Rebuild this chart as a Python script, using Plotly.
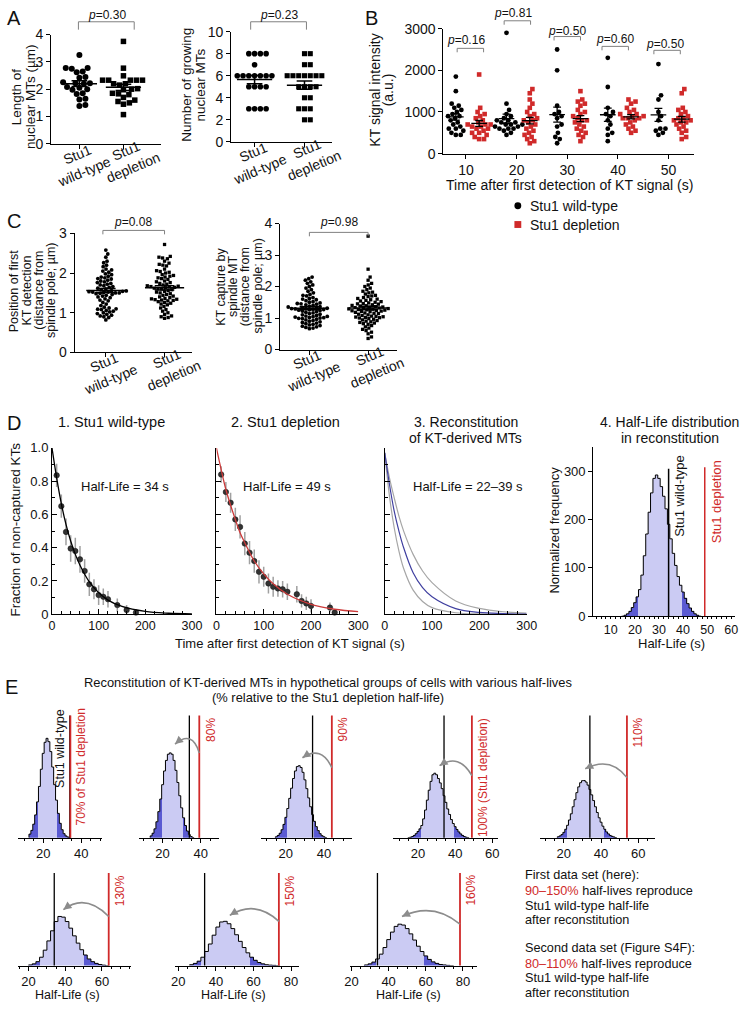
import numpy as np
import plotly.graph_objects as go

# ======================= DATA =======================
A_categories = ["Stu1<br>wild-type", "Stu1<br>depletion"]
A_length_wt = [3.25, 2.78, 2.78, 2.75, 2.62, 2.65, 2.45, 2.42, 2.25, 2.22, 2.22, 2.20,
               2.08, 2.05, 2.00, 1.98, 1.82, 1.85, 1.62, 1.65, 1.42, 1.38]
A_length_dep = [3.75, 2.77, 2.49, 2.33, 2.33, 2.33, 2.33, 2.33, 2.20, 2.20, 2.15, 2.02,
                2.00, 1.98, 1.85, 1.83, 1.80, 1.70, 1.60, 1.55, 1.50, 1.45, 1.07]
A_growing_wt = [8, 8, 8, 8, 7, 6, 6, 6, 6, 6, 6, 6, 5, 5, 5, 5, 3, 3, 3, 3]
A_growing_dep = [8, 8, 7, 7, 6, 6, 6, 6, 6, 6, 6, 5, 5, 5, 5, 4, 4, 3, 3, 3, 2, 2]
A_pvalues = ["0.30", "0.23"]

B_times = [10, 20, 30, 40, 50]
B_pvalues = ["0.16", "0.81", "0.50", "0.60", "0.50"]
B_wt_10 = [1850, 1500, 1200, 1150, 1100, 1050, 1000, 950, 900, 900, 850, 800, 750, 650, 600, 600, 550, 500, 450, 450, 700]
B_dep_10 = [1900, 1100, 1000, 950, 900, 850, 800, 750, 700, 700, 650, 600, 600, 550, 500, 500, 450, 400, 350, 350, 700, 650]
B_wt_20 = [2900, 1200, 1050, 950, 900, 850, 800, 800, 750, 750, 700, 700, 650, 650, 600, 600, 550, 500, 450, 700, 600]
B_dep_20 = [1550, 1450, 1300, 1200, 1100, 1000, 950, 900, 850, 800, 750, 700, 650, 600, 550, 500, 450, 400, 350, 300, 250, 800]
B_wt_30 = [2500, 2000, 1150, 1000, 950, 900, 850, 700, 650, 500, 400, 350, 250]
B_dep_30 = [1500, 1300, 1250, 1200, 1150, 1050, 1000, 950, 900, 850, 800, 750, 700, 650, 600, 550, 500, 450, 400, 300, 800]
B_wt_40 = [2300, 1600, 1100, 1000, 950, 900, 800, 700, 600, 500, 300, 450]
B_dep_40 = [1300, 1250, 1200, 1100, 1050, 1000, 950, 900, 900, 850, 850, 800, 750, 700, 650, 600, 550, 500, 850, 950]
B_wt_50 = [2150, 1400, 1300, 1000, 900, 800, 600, 550, 500, 450, 600]
B_dep_50 = [1550, 1450, 1100, 1050, 1000, 950, 900, 850, 800, 800, 750, 700, 650, 600, 550, 500, 400, 350, 850, 750]

C_pvalues = ["0.08", "0.98"]
C_position_wt = [2.58, 2.48, 2.40, 2.30, 2.26, 2.20, 2.16, 2.10, 2.08, 2.05, 2.02, 1.98, 1.96, 1.92,
                 1.90, 1.88, 1.86, 1.85, 1.82, 1.80, 1.78, 1.76, 1.74, 1.72, 1.70, 1.68, 1.66, 1.64,
                 1.62, 1.60, 1.58, 1.56, 1.55, 1.54, 1.53, 1.52, 1.52, 1.51, 1.50, 1.50, 1.49, 1.48,
                 1.46, 1.44, 1.42, 1.40, 1.38, 1.35, 1.32, 1.30, 1.26, 1.22, 1.18, 1.14, 1.12, 1.10,
                 1.09, 1.08, 1.06, 1.04, 1.02, 1.00, 0.98, 0.96, 0.94, 0.92, 0.90, 0.88, 0.82]
C_position_dep = [2.72, 2.42, 2.40, 2.38, 2.36, 2.30, 2.25, 2.22, 2.20, 2.18, 2.10, 2.06, 2.04, 2.02,
                  2.00, 1.96, 1.94, 1.92, 1.90, 1.88, 1.86, 1.84, 1.80, 1.78, 1.76, 1.74, 1.72, 1.70,
                  1.68, 1.67, 1.66, 1.65, 1.64, 1.63, 1.62, 1.61, 1.60, 1.58, 1.56, 1.54, 1.52, 1.50,
                  1.48, 1.46, 1.44, 1.42, 1.40, 1.38, 1.36, 1.35, 1.34, 1.33, 1.32, 1.31, 1.30, 1.28,
                  1.26, 1.24, 1.22, 1.20, 1.16, 1.12, 1.08, 1.04, 1.00, 0.96, 0.92, 0.90, 0.88, 0.86]
C_capture_wt = [2.30, 2.25, 2.20, 2.15, 2.10, 2.05, 2.00, 1.95, 1.90, 1.85, 1.80, 1.75, 1.72, 1.70,
                1.65, 1.62, 1.60, 1.58, 1.55, 1.52, 1.50, 1.48, 1.46, 1.45, 1.44, 1.42, 1.40, 1.38,
                1.36, 1.35, 1.34, 1.32, 1.31, 1.30, 1.30, 1.29, 1.28, 1.27, 1.26, 1.25, 1.24, 1.22,
                1.20, 1.18, 1.16, 1.14, 1.12, 1.10, 1.08, 1.06, 1.05, 1.04, 1.03, 1.02, 1.01, 1.00,
                0.99, 0.98, 0.96, 0.94, 0.92, 0.90, 0.88, 0.86, 0.84, 0.82, 0.80, 0.78, 0.76, 0.74,
                0.72, 0.70, 0.68, 0.66]
C_capture_dep = [3.60, 2.55, 2.30, 2.20, 2.10, 2.05, 2.00, 1.95, 1.90, 1.85, 1.82, 1.80, 1.76, 1.72,
                 1.70, 1.68, 1.65, 1.62, 1.60, 1.58, 1.56, 1.54, 1.52, 1.50, 1.48, 1.46, 1.45, 1.44,
                 1.42, 1.40, 1.39, 1.38, 1.36, 1.35, 1.34, 1.33, 1.32, 1.31, 1.30, 1.29, 1.28, 1.27,
                 1.26, 1.25, 1.24, 1.23, 1.22, 1.21, 1.20, 1.18, 1.16, 1.15, 1.14, 1.12, 1.10, 1.08,
                 1.06, 1.05, 1.04, 1.03, 1.02, 1.01, 1.00, 0.98, 0.96, 0.94, 0.92, 0.90, 0.88, 0.86,
                 0.84, 0.82, 0.80, 0.76, 0.72, 0.68, 0.64, 0.60, 0.55, 0.50, 0.40, 0.35]

HALF_LIFE_WT = 34
HALF_LIFE_DEP = 49

D1_t = [10, 20, 30, 40, 50, 60, 70, 80, 90, 100, 110, 120, 140, 160, 180]
D1_f = [0.835, 0.65, 0.495, 0.395, 0.38, 0.33, 0.26, 0.18, 0.15, 0.115, 0.105, 0.09, 0.055, 0.025, 0.01]
D1_err = [0.07, 0.07, 0.08, 0.08, 0.08, 0.08, 0.07, 0.07, 0.06, 0.06, 0.05, 0.05, 0.04, 0.03, 0.02]
D1_fit_t = [0, 10, 20, 30, 40, 50, 60, 80, 100, 120, 150, 200, 250, 300]
D1_fit_f = [1.0, 0.82, 0.665, 0.54, 0.44, 0.36, 0.295, 0.195, 0.13, 0.085, 0.047, 0.017, 0.006, 0.002]

D2_t = [10, 20, 30, 40, 50, 60, 70, 80, 90, 100, 110, 120, 130, 140, 150, 170, 180, 190, 200, 240, 250]
D2_f = [0.84, 0.735, 0.67, 0.57, 0.525, 0.425, 0.37, 0.32, 0.255, 0.225, 0.185, 0.165, 0.155, 0.15,
        0.135, 0.12, 0.08, 0.065, 0.05, 0.04, 0.01]
D2_err = [0.05, 0.06, 0.06, 0.07, 0.07, 0.07, 0.07, 0.07, 0.07, 0.06, 0.06, 0.06, 0.05, 0.05, 0.05,
          0.05, 0.04, 0.04, 0.04, 0.03, 0.02]
D2_fit_t = [0, 10, 20, 30, 40, 50, 60, 80, 100, 120, 150, 200, 250, 300]
D2_fit_f = [1.0, 0.87, 0.75, 0.655, 0.57, 0.49, 0.43, 0.32, 0.243, 0.183, 0.12, 0.06, 0.03, 0.016]

D3_t = [0, 10, 20, 30, 40, 60, 80, 100, 150, 200, 250, 300]
D3_upper = [0.97, 0.82, 0.70, 0.59, 0.50, 0.36, 0.26, 0.19, 0.08, 0.035, 0.015, 0.007]
D3_middle = [0.97, 0.78, 0.62, 0.50, 0.40, 0.25, 0.16, 0.105, 0.034, 0.011, 0.004, 0.001]
D3_lower = [0.97, 0.71, 0.52, 0.38, 0.275, 0.145, 0.077, 0.04, 0.009, 0.002, 0.0005, 0.0]

D4_bins = list(range(15, 48))
D4_freq = [0, 2, 5, 10, 18, 28, 40, 55, 85, 125, 170, 215, 255, 285, 292, 285, 268, 248, 222, 190,
           160, 130, 105, 82, 64, 50, 37, 26, 17, 10, 5, 2, 0]

E_percents = [70, 80, 90, 100, 110, 130, 150, 160]
E1_bins = list(range(13, 35))
E1_freq = [16, 33, 61, 103, 162, 232, 310, 382, 432, 450, 435, 390, 320, 240, 170, 110, 65, 36, 18, 8, 3, 0]
E2_bins = list(range(14, 37))
E2_freq = [8, 20, 40, 72, 118, 175, 240, 302, 350, 378, 384, 378, 350, 305, 250, 190, 135, 90, 55, 30, 14, 5, 0]
E3_bins = list(range(15, 42))
E3_freq = [4, 10, 20, 36, 60, 92, 132, 178, 224, 268, 302, 322, 326, 318, 296, 262, 222, 180, 140, 104,
           74, 50, 32, 18, 9, 4, 0]
E4_bins = D4_bins
E4_freq = D4_freq
E5_bins = list(range(17, 49))
E5_freq = [4, 8, 14, 24, 38, 56, 80, 108, 140, 172, 204, 230, 249, 258, 259, 252, 238, 218, 194, 168,
           140, 114, 90, 70, 52, 38, 26, 17, 10, 6, 3, 0]
E6_bins = list(range(21, 64, 2))
E6_freq = [3, 8, 18, 38, 70, 112, 158, 200, 223, 220, 200, 170, 135, 102, 72, 48, 30, 18, 10, 5, 2, 0]
E7_bins = list(range(27, 74, 2))
E7_freq = [4, 10, 20, 38, 64, 98, 138, 175, 198, 201, 190, 168, 140, 110, 82, 58, 38, 24, 14, 8, 4, 2, 1, 0]
E8_bins = list(range(28, 75, 2))
E8_freq = [3, 8, 16, 30, 52, 82, 118, 152, 178, 188, 184, 168, 144, 116, 88, 64, 44, 28, 17, 10, 5, 3, 1, 0]
E_tail_lo = [17, 19, 20, 21, 21, 25, 31, 32]
E_tail_hi = [28, 31, 35, 40, 42, 51, 59, 60]
D4_tail_lo, D4_tail_hi = 21, 40

# ======================= STYLE / GEOMETRY =======================
W, H = 750, 1010
FONT = "Liberation Sans, Arial, Helvetica, sans-serif"
RED = "#d02a2a"
LIGHT = "#cbcbf3"
DARK = "#5a5ad2"
GRAY = "#8c8c8c"


def fx(p):
    return p / W


def fy(p):
    return 1 - p / H


fig = go.Figure()
AX = {}
ANN = []
SHAPES = []


def names(n):
    return ('x' if n == 1 else f'x{n}'), ('y' if n == 1 else f'y{n}')


def set_axes(n, xpx, ypx, xa, ya):
    xr, yr = names(n)
    base = dict(showline=True, linecolor='black', linewidth=1, showgrid=False, zeroline=False,
                tickcolor='black', ticklen=4, tickwidth=1, fixedrange=True,
                tickfont=dict(size=14, family=FONT, color='#111'))
    xd = dict(base, domain=[fx(xpx[0]), fx(xpx[1])], anchor=yr)
    xd.update(xa)
    yd = dict(base, domain=[fy(ypx[1]), fy(ypx[0])], anchor=xr)
    yd.update(ya)
    AX['xaxis' if n == 1 else f'xaxis{n}'] = xd
    AX['yaxis' if n == 1 else f'yaxis{n}'] = yd


def txt(x, y, text, size=14, color='#111', angle=0, xa='center', ya='middle',
        xref='paper', yref='paper', xshift=0, yshift=0):
    ANN.append(dict(x=fx(x) if xref == 'paper' else x, y=fy(y) if yref == 'paper' else y,
                    xref=xref, yref=yref, text=text, showarrow=False, textangle=angle,
                    font=dict(size=size, color=color, family=FONT),
                    xanchor=xa, yanchor=ya, xshift=xshift, yshift=yshift))


def bracket(x0, x1, ytop, ybot):
    SHAPES.append(dict(type='path', xref='paper', yref='paper',
                       path=f"M {fx(x0)},{fy(ybot)} L {fx(x0)},{fy(ytop)} L {fx(x1)},{fy(ytop)} L {fx(x1)},{fy(ybot)}",
                       line=dict(color='#808080', width=1)))


def swarm(vals, yppu, d):
    v = np.asarray(vals, float)
    ys = v * yppu
    order = np.argsort(v, kind='stable')
    px_, py_ = [], []
    out = np.zeros(len(v))
    for i in order:
        y = ys[i]
        cands = [0.0]
        for a, b in zip(px_, py_):
            dy = abs(b - y)
            if dy < d:
                dx = np.sqrt(d * d - dy * dy)
                cands += [a + dx, a - dx]
        cands.sort(key=lambda c: (round(abs(c), 6), -c))
        for c in cands:
            if all((c - a) ** 2 + (y - b) ** 2 >= d * d - 1e-6 for a, b in zip(px_, py_)):
                out[i] = c
                break
        px_.append(out[i])
        py_.append(y)
    return out


def mean_sem(xc, vals, mh, ch, n, width=1.5):
    xr, yr = names(n)
    v = np.asarray(vals, float)
    m = v.mean()
    s = v.std(ddof=1) / np.sqrt(len(v))
    xs = [xc - mh, xc + mh, None, xc, xc, None, xc - ch, xc + ch, None, xc - ch, xc + ch]
    ys = [m, m, None, m - s, m + s, None, m + s, m + s, None, m - s, m - s]
    fig.add_trace(go.Scatter(x=xs, y=ys, mode='lines', line=dict(color='black', width=width),
                             xaxis=xr, yaxis=yr, hoverinfo='skip', showlegend=False))


def cat_panel(n, xpx, ypx, cat_px, yrange, yticks, groups, d, msize, mh, ch, colors=('black', 'black')):
    xr, yr = names(n)
    unit = cat_px[1] - cat_px[0]
    r0 = (xpx[0] - cat_px[0]) / unit
    r1 = (xpx[1] - cat_px[0]) / unit
    yppu = (ypx[1] - ypx[0]) / (yrange[1] - yrange[0])
    set_axes(n, xpx, ypx,
             dict(range=[r0, r1], tickvals=[0, 1], showticklabels=False, ticks='outside'),
             dict(range=yrange, tickvals=yticks, ticks='outside'))
    for i, (vals, sym) in enumerate(groups):
        off = swarm(vals, yppu, d)
        fig.add_trace(go.Scatter(x=i + off / unit, y=vals, mode='markers',
                                 marker=dict(symbol=sym, size=msize if sym == 'circle' else msize - 0.5,
                                             color=colors[i], line=dict(width=0)),
                                 xaxis=xr, yaxis=yr, hoverinfo='skip', showlegend=False, cliponaxis=False))
    for i, (vals, sym) in enumerate(groups):
        mean_sem(i, vals, mh / unit, ch / unit, n)
    for i, lab in enumerate(A_categories):
        cx = cat_px[i] + (1 if i == 0 else 6)
        cy = ypx[1] + (19 if i == 0 else 15)
        txt(cx, cy, lab, size=14, angle=-23)


# ----- Panel A -----
cat_panel(1, (46, 158), (27, 138), (75, 120), [0, 4], [0, 1, 2, 3, 4],
          [(A_length_wt, 'circle'), (A_length_dep, 'square')], 6.2, 6, 18, 8)
cat_panel(2, (230, 333), (24, 136), (254, 305), [0, 10], [0, 2, 4, 6, 8, 10],
          [(A_growing_wt, 'circle'), (A_growing_dep, 'square')], 5.9, 5.6, 18, 8)
txt(8, 10, "A", size=20)
txt(11, 90, "Length of", size=13.5, angle=-90)
txt(25, 90, "nuclear MTs (µm)", size=13.5, angle=-90)
txt(185, 78, "Number of growing", size=13.5, angle=-90)
txt(199, 78, "nuclear MTs", size=13.5, angle=-90)
txt(103, 7, f"<i>p</i>={A_pvalues[0]}", size=12)
bracket(74, 131, 14, 22)
txt(279, 7, f"<i>p</i>={A_pvalues[1]}", size=12)
bracket(250, 307, 14, 22)

# ----- Panel B -----
n = 3
xr, yr = names(n)
b_xpx, b_ypx = (447, 703), (21, 148)
b_unit = (677 - 470) / 40.0
b_r0 = 10 - (470 - b_xpx[0]) / b_unit
b_r1 = 10 + (b_xpx[1] - 470) / b_unit
set_axes(n, b_xpx, b_ypx,
         dict(range=[b_r0, b_r1], tickvals=B_times, ticks='outside'),
         dict(range=[0, 3000], tickvals=[0, 1000, 2000, 3000], ticks='outside'))
b_yppu = (b_ypx[1] - b_ypx[0]) / 3000.0
B_wt = [B_wt_10, B_wt_20, B_wt_30, B_wt_40, B_wt_50]
B_dep = [B_dep_10, B_dep_20, B_dep_30, B_dep_40, B_dep_50]
for t, wt, dep in zip(B_times, B_wt, B_dep):
    for vals, shift, sym, col in [(wt, -2.0, 'circle', 'black'), (dep, 2.6, 'square', RED)]:
        off = swarm(vals, b_yppu, 5.0)
        fig.add_trace(go.Scatter(x=t + shift + off / b_unit, y=vals, mode='markers',
                                 marker=dict(symbol=sym, size=4.8 if sym == 'circle' else 4.6,
                                             color=col, line=dict(width=0)),
                                 xaxis=xr, yaxis=yr, hoverinfo='skip', showlegend=False, cliponaxis=False))
    mean_sem(t - 2.0, wt, 8 / b_unit, 4 / b_unit, n, 1.3)
    mean_sem(t + 2.6, dep, 8 / b_unit, 4 / b_unit, n, 1.3)
txt(373, 10, "B", size=20)
txt(377, 83, "KT signal intensity", angle=-90)
txt(390, 83, "(a.u.)", angle=-90)
txt(576, 180, "Time after first detection of KT signal (s)")
b_p_pos = [(470, 33, 461, 488, 41), (518, 5, 509, 536, 13), (573, 23, 560, 587, 29),
           (622, 32, 609, 636, 39), (673, 37, 662, 689, 43)]
for p, (tx, ty, bx0, bx1, bt) in zip(B_pvalues, b_p_pos):
    txt(tx, ty, f"<i>p</i>={p}", size=12)
    bracket(bx0, bx1, bt, bt + 4)
SHAPES.append(dict(type='circle', xref='paper', yref='paper', x0=fx(519.5), x1=fx(526.5),
                   y0=fy(204.5), y1=fy(197.5), fillcolor='black', line=dict(width=0)))
SHAPES.append(dict(type='rect', xref='paper', yref='paper', x0=fx(519.5), x1=fx(526.5),
                   y0=fy(223.5), y1=fy(216.5), fillcolor=RED, line=dict(width=0)))
txt(533, 201, "Stu1 wild-type", xa='left')
txt(533, 220, "Stu1 depletion", xa='left')

# ----- Panel C -----
cat_panel(4, (70, 190), (229, 350), (102, 162), [0, 3], [0, 1, 2, 3],
          [(C_position_wt, 'circle'), (C_position_dep, 'square')], 3.8, 3.8, 20, 10)
cat_panel(5, (280, 400), (219, 347), (310, 370), [0, 4], [0, 1, 2, 3, 4],
          [(C_capture_wt, 'circle'), (C_capture_dep, 'square')], 3.8, 3.8, 20, 10)
txt(8, 216, "C", size=20)
for xx, line in zip([9, 21.5, 34, 46.5], ["Position of first", "KT detection", "(distance from", "spindle pole; µm)"]):
    txt(xx, 287, line, size=12.5, angle=-90)
for xx, line in zip([219, 231.5, 244, 256.5], ["KT capture by", "spindle MT", "(distance from", "spindle pole; µm)"]):
    txt(xx, 283, line, size=12.5, angle=-90)
txt(130, 217, f"<i>p</i>={C_pvalues[0]}", size=12)
bracket(99, 162, 226, 230)
txt(340, 217, f"<i>p</i>={C_pvalues[1]}", size=12)
bracket(310, 370, 228, 232)

# ----- Panel D -----
d_ypx = (447, 616)
d_x_common = dict(range=[0, 300], tick0=0, dtick=100, ticks='inside', ticklen=5,
                  tickfont=dict(size=12.5, family=FONT, color='#111'),
                  minor=dict(tickmode='linear', tick0=0, dtick=20, ticks='inside', ticklen=3, tickcolor='black'))


def d_y(show):
    return dict(range=[0, 1], tickmode='array', tickvals=[0, 0.2, 0.4, 0.6, 0.8, 1.0],
                ticktext=['0', '0.2', '0.4', '0.6', '0.8', '1.0'], showticklabels=show,
                ticks='inside', ticklen=5, tickfont=dict(size=13, family=FONT, color='#111'),
                minor=dict(tickmode='linear', tick0=0, dtick=0.1, ticks='inside', ticklen=3, tickcolor='black'))


set_axes(6, (47, 190), d_ypx, dict(d_x_common), d_y(True))
set_axes(7, (215, 360), d_ypx, dict(d_x_common), d_y(False))
set_axes(8, (387, 532), d_ypx, dict(d_x_common), d_y(False))

for n, t, f, e, ft, ff, col in [(6, D1_t, D1_f, D1_err, D1_fit_t, D1_fit_f, 'black'),
                                (7, D2_t, D2_f, D2_err, D2_fit_t, D2_fit_f, '#cc3a3a')]:
    xr, yr = names(n)
    fig.add_trace(go.Scatter(x=t, y=f, mode='markers',
                             marker=dict(size=5.5, color='#333333', line=dict(width=0.5, color='#111')),
                             error_y=dict(type='data', array=e, color='#a0a0a0', thickness=1.5, width=0),
                             xaxis=xr, yaxis=yr, hoverinfo='skip', showlegend=False, cliponaxis=False))
    fig.add_trace(go.Scatter(x=ft, y=ff, mode='lines', line=dict(color=col, width=1.3, shape='spline'),
                             xaxis=xr, yaxis=yr, hoverinfo='skip', showlegend=False))
xr, yr = names(8)
for curve, col in [(D3_upper, '#a6a6a6'), (D3_lower, '#a6a6a6'), (D3_middle, '#4040a0')]:
    fig.add_trace(go.Scatter(x=D3_t, y=curve, mode='lines', line=dict(color=col, width=1.2, shape='spline'),
                             xaxis=xr, yaxis=yr, hoverinfo='skip', showlegend=False))

# D4 histogram
set_axes(9, (600, 745), (446, 618),
         dict(range=[2.7, 61.6], tick0=0, dtick=10, ticks='outside', ticklen=2,
              tickfont=dict(size=12.5, family=FONT, color='#111'),
              minor=dict(tickmode='linear', tick0=0, dtick=2, ticks='outside', ticklen=2, tickcolor='black')),
         dict(range=[0, 350], tickvals=[0, 100, 200, 300], ticks='outside', ticklen=4,
              tickfont=dict(size=13, family=FONT, color='#111')))


def histogram(n, bins, freq, lo, hi):
    xr, yr = names(n)
    w = bins[1] - bins[0]
    colors = [DARK if (b <= lo or b >= hi) else LIGHT for b in bins]
    fig.add_trace(go.Bar(x=bins, y=freq, width=w, marker=dict(color=colors, line=dict(width=0)),
                         xaxis=xr, yaxis=yr, hoverinfo='skip', showlegend=False))
    xs = [bins[0] - w / 2] + [b - w / 2 for b in bins] + [bins[-1] + w / 2]
    ys = [0] + list(freq) + [0]
    fig.add_trace(go.Scatter(x=xs, y=ys, mode='lines', line=dict(color='black', width=1, shape='hv'),
                             xaxis=xr, yaxis=yr, hoverinfo='skip', showlegend=False))


histogram(9, D4_bins, D4_freq, D4_tail_lo, D4_tail_hi)
SHAPES.append(dict(type='line', xref='x9', yref='y9', x0=HALF_LIFE_WT, x1=HALF_LIFE_WT, y0=0, y1=305,
                   line=dict(color='black', width=1.5)))
SHAPES.append(dict(type='line', xref='x9', yref='y9', x0=HALF_LIFE_DEP, x1=HALF_LIFE_DEP, y0=0, y1=308,
                   line=dict(color=RED, width=1.5)))
txt(HALF_LIFE_WT, 338, "Stu1 wild-type", size=13, angle=-90, xa='left', ya='top',
    xref='x9', yref='y9', xshift=2)
txt(HALF_LIFE_DEP, 326, "Stu1 depletion", size=13, color=RED, angle=-90, xa='left', ya='top',
    xref='x9', yref='y9', xshift=2)

txt(8, 422, "D", size=20)
txt(108, 421, "1. Stu1 wild-type", size=14.5)
txt(286, 421, "2. Stu1 depletion", size=14.5)
txt(470, 421, "3. Reconstitution", size=14)
txt(470, 437, "of KT-derived MTs", size=14)
txt(678, 421, "4. Half-Life distribution", size=14)
txt(678, 437, "in reconstitution", size=14)
txt(122, 486, f"Half-Life = {HALF_LIFE_WT} s", size=13)
txt(287, 486, f"Half-Life = {HALF_LIFE_DEP} s", size=13)
txt(472, 486, "Half-Life = 22–39 s", size=13)
txt(10, 530, "Fraction of non-captured KTs", size=13.5, angle=-90)
txt(561, 531, "Normalized frequency", size=13, angle=-90)
txt(290, 646, "Time after first detection of KT signal (s)", size=13)
txt(680, 646, "Half-Life (s)", size=13)

# ----- Panel E -----
E_bins = [E1_bins, E2_bins, E3_bins, E4_bins, E5_bins, E6_bins, E7_bins, E8_bins]
E_freq = [E1_freq, E2_freq, E3_freq, E4_freq, E5_freq, E6_freq, E7_freq, E8_freq]
E_xpx = [(12, 98), (136, 218), (261, 354), (395, 503), (546, 663), (12, 128), (173, 299), (352, 481)]
E_xrange = [(6.6, 50.9), (7.7, 49.7), (7.2, 54.9), (6.3, 63.2), (7.4, 68.9), (14.1, 76), (18.4, 84), (19.5, 87.4)]
E_rows = [(719, 843), (879, 973)]
E_ymax = [553, 420]
E_arrows = [None,
            (384, (35.5, 490), (26.5, 424)),
            (317, (38.5, 420), (28.7, 362)),
            (281, (42, 385), (31.6, 326)),
            (272, (45, 370), (31.5, 312)),
            (223, (51, 330), (39, 254)),
            (201, (61, 300), (47.4, 228)),
            (188, (64, 290), (47.2, 223))]
E_labels = ["70% of Stu1 depletion", "80%", "90%", "100% (Stu1 depletion)", "110%", "130%", "150%", "160%"]

for k in range(8):
    n = 10 + k
    xr, yr = names(n)
    row = 0 if k < 5 else 1
    set_axes(n, E_xpx[k], E_rows[row],
             dict(range=list(E_xrange[k]), tick0=0, dtick=20, ticks='outside', ticklen=4,
                  tickfont=dict(size=13, family=FONT, color='#111'),
                  minor=dict(tickmode='linear', tick0=0, dtick=5, ticks='outside', ticklen=2.5, tickcolor='black')),
             dict(range=[0, E_ymax[row]], visible=False))
    histogram(n, E_bins[k], E_freq[k], E_tail_lo[k], E_tail_hi[k])
    red_x = E_percents[k] / 100.0 * HALF_LIFE_DEP
    SHAPES.append(dict(type='line', xref=xr, yref=f'{yr} domain', x0=HALF_LIFE_WT, x1=HALF_LIFE_WT,
                       y0=0, y1=1, line=dict(color='black', width=1.3)))
    SHAPES.append(dict(type='line', xref=xr, yref=f'{yr} domain', x0=red_x, x1=red_x,
                       y0=0, y1=1, line=dict(color=RED, width=1.8)))
    txt(red_x, 1, E_labels[k], size=12, color=RED, angle=-90, xa='left', ya='top',
        xref=xr, yref=f'{yr} domain', xshift=2, yshift=(9 if k == 0 else 0))
    if k == 0:
        txt(HALF_LIFE_WT, 1, "Stu1 wild-type", size=12.5, angle=-90, xa='right', ya='top',
            xref=xr, yref=f'{yr} domain', xshift=-1, yshift=9)
    arr = E_arrows[k]
    if arr is not None:
        sy, (cx, cy), (ex, ey) = arr
        SHAPES.append(dict(type='path', xref=xr, yref=yr,
                           path=f"M {red_x},{sy} Q {cx},{cy} {ex},{ey}",
                           line=dict(color=GRAY, width=1.6)))
        xppu = (E_xpx[k][1] - E_xpx[k][0]) / (E_xrange[k][1] - E_xrange[k][0])
        yppu = (E_rows[row][1] - E_rows[row][0]) / E_ymax[row]
        dxp = (ex - cx) * xppu
        dyp = -(ey - cy) * yppu
        L = np.hypot(dxp, dyp)
        ANN.append(dict(x=ex, y=ey, xref=xr, yref=yr, text='', showarrow=True,
                        ax=-dxp / L * 7, ay=-dyp / L * 7, arrowhead=2, arrowsize=1,
                        arrowwidth=1.6, arrowcolor=GRAY, standoff=0))

txt(6, 690, "E", size=20)
txt(329, 685, "Reconstitution of KT-derived MTs in hypothetical groups of cells with various half-lives", size=12.9)
txt(329, 701, "(% relative to the Stu1 depletion half-life)", size=12.9)
for cx in [63, 232, 411]:
    txt(cx, 1003, "Half-Life (s)", size=12.5)
side_lines = ["First data set (here):",
              f"<span style='color:{RED}'>90–150%</span> half-lives reproduce",
              "Stu1 wild-type half-life", "after reconstitution",
              "Second data set (Figure S4F):",
              f"<span style='color:{RED}'>80–110%</span> half-lives reproduce",
              "Stu1 wild-type half-life", "after reconstitution"]
for yy, line in zip([881, 897, 912, 927, 955, 971, 986, 1001], side_lines):
    txt(528, yy, line, size=12.7, xa='left')

fig.update_layout(width=W, height=H, margin=dict(l=0, r=0, t=0, b=0),
                  paper_bgcolor='white', plot_bgcolor='rgba(0,0,0,0)',
                  font=dict(family=FONT, size=14, color='#111'),
                  showlegend=False, hovermode=False, bargap=0,
                  annotations=ANN, shapes=SHAPES, **AX)
fig.write_html("out.html", config={'displayModeBar': False, 'staticPlot': True},
               post_script="document.body.style.margin='0px';document.body.style.overflow='hidden';")
